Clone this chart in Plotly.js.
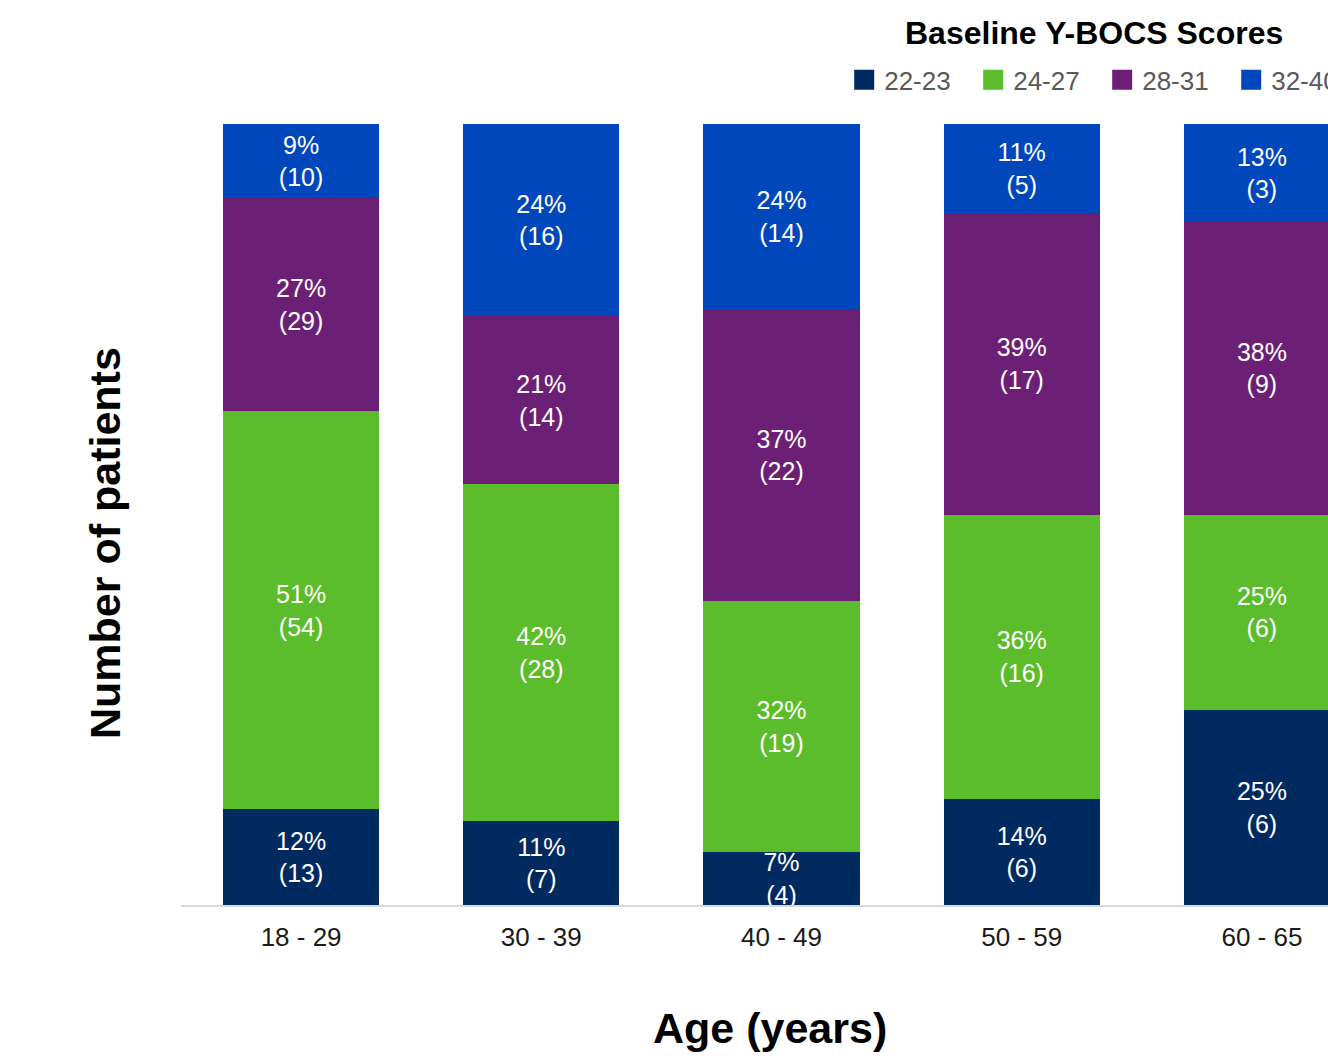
<!DOCTYPE html>
<html>
<head>
<meta charset="utf-8">
<script src="https://cdn.plot.ly/plotly-3.0.1.min.js"></script>
<style>
  html, body { margin: 0; padding: 0; overflow: hidden; background: #fff; }
  #chart { width: 1400px; height: 1059px; }
</style>
</head>
<body>
<div id="chart"></div>
<script>
// ---- data ----
var ageGroups = ['18 - 29', '30 - 39', '40 - 49', '50 - 59', '60 - 65'];
var scoreBands = ['22-23', '24-27', '28-31', '32-40'];
var counts_22_23 = [13, 7, 4, 6, 6];
var counts_24_27 = [54, 28, 19, 16, 6];
var counts_28_31 = [29, 14, 22, 17, 9];
var counts_32_40 = [10, 16, 14, 5, 3];
var pct_22_23 = [12, 11, 7, 14, 25];
var pct_24_27 = [51, 42, 32, 36, 25];
var pct_28_31 = [27, 21, 37, 39, 38];
var pct_32_40 = [9, 24, 24, 11, 13];
var bandColors = ['#002a60', '#5bbd2b', '#6c2075', '#0047bb'];
var legendTitle = 'Baseline Y-BOCS Scores';
var xTitle = 'Age (years)';
var yTitle = 'Number of patients';

var allCounts = [counts_22_23, counts_24_27, counts_28_31, counts_32_40];
var allPct = [pct_22_23, pct_24_27, pct_28_31, pct_32_40];

var FONT = 'Liberation Sans, Arial, Helvetica, sans-serif';
var traces = [];
scoreBands.forEach(function (band, i) {
  traces.push({
    type: 'bar',
    name: band,
    x: ageGroups,
    y: allCounts[i],
    text: allPct[i].map(function (p, j) { return p + '%<br>(' + allCounts[i][j] + ')'; }),
    textposition: 'inside',
    insidetextanchor: 'middle',
    textangle: 0,
    constraintext: 'none',
    textfont: { family: FONT, size: 25, color: '#ffffff' },
    marker: { color: bandColors[i], line: { width: 0 } },
    showlegend: false,
    hoverinfo: 'x+y+name'
  });
});
// legend swatches
scoreBands.forEach(function (band, i) {
  traces.push({
    type: 'scatter',
    mode: 'markers',
    name: band,
    x: [ageGroups[0]],
    y: [null],
    marker: { symbol: 'square', size: 16, color: bandColors[i], line: { width: 4, color: bandColors[i] } },
    showlegend: true,
    hoverinfo: 'skip'
  });
});

var layout = {
  width: 1400,
  height: 1059,
  margin: { l: 181, r: 18, t: 124, b: 154, autoexpand: false },
  paper_bgcolor: '#ffffff',
  plot_bgcolor: '#ffffff',
  font: { family: FONT, color: '#1a1a1a' },
  barmode: 'stack',
  barnorm: 'percent',
  bargap: 0.35,
  xaxis: {
    type: 'category',
    showline: true,
    linecolor: '#d9d9d9',
    linewidth: 2,
    showgrid: false,
    zeroline: false,
    ticks: '',
    tickfont: { family: FONT, size: 26, color: '#1a1a1a' },
    ticklabelstandoff: 8,
    automargin: false,
    fixedrange: true
  },
  yaxis: {
    range: [0, 100],
    showticklabels: false,
    showgrid: false,
    zeroline: false,
    showline: false,
    ticks: '',
    automargin: false,
    fixedrange: true
  },
  legend: {
    orientation: 'h',
    x: 0.5522,
    xanchor: 'left',
    yref: 'container',
    y: 0.9245,
    yanchor: 'middle',
    entrywidth: 84,
    entrywidthmode: 'pixels',
    font: { family: FONT, size: 26, color: '#595959' },
    traceorder: 'normal',
    bgcolor: 'rgba(0,0,0,0)'
  },
  annotations: [
    {
      text: '<b>' + legendTitle + '</b>',
      xref: 'paper', yref: 'paper',
      x: 0.7606, y: 1.1165,
      xanchor: 'center', yanchor: 'middle',
      showarrow: false,
      font: { family: FONT, size: 32, color: '#000000' }
    },
    {
      text: '<b>' + xTitle + '</b>',
      xref: 'paper', yref: 'paper',
      x: 0.4904, y: -0.1575,
      xanchor: 'center', yanchor: 'middle',
      showarrow: false,
      font: { family: FONT, size: 43, color: '#000000' }
    },
    {
      text: '<b>' + yTitle + '</b>',
      xref: 'paper', yref: 'paper',
      x: -0.0633, y: 0.4635,
      xanchor: 'center', yanchor: 'middle',
      textangle: -90,
      showarrow: false,
      font: { family: FONT, size: 43, color: '#000000' }
    }
  ]
};

Plotly.newPlot('chart', traces, layout, { displayModeBar: false, staticPlot: true });
</script>
</body>
</html>
